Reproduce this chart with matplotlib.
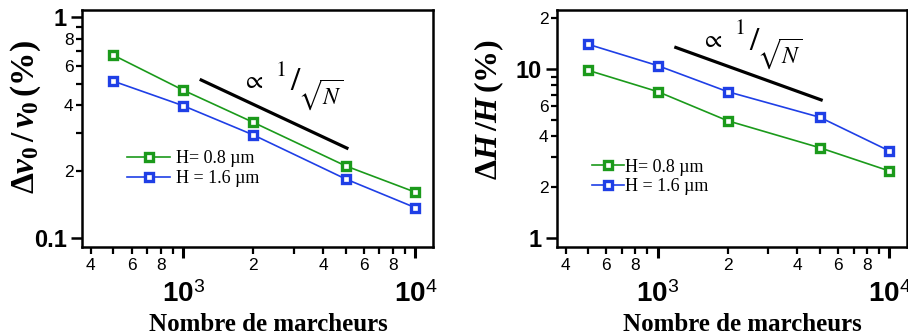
import matplotlib
matplotlib.use('Agg')
import matplotlib.pyplot as plt

plt.rcParams['font.family'] = 'Liberation Sans'
plt.rcParams['mathtext.fontset'] = 'custom'
plt.rcParams['mathtext.rm'] = 'Liberation Serif:bold'
plt.rcParams['mathtext.it'] = 'Liberation Serif:italic:bold'
plt.rcParams['mathtext.bf'] = 'Liberation Sans:bold'
plt.rcParams['mathtext.sf'] = 'Liberation Sans'

# nombre de marcheurs
n_walkers = [500, 1000, 2000, 5000, 10000]

# dv0/v0 (%)
dv_h08 = [6.73, 4.67, 3.34, 2.12, 1.61]
dv_h16 = [5.13, 3.97, 2.93, 1.85, 1.37]

# dH/H (%)
dh_h08 = [9.82, 7.34, 4.94, 3.42, 2.49]
dh_h16 = [14.0, 10.46, 7.34, 5.18, 3.27]

# droite de reference 1/sqrt(N)
ref_x = [1196, 5070]
ref_dv = [5.19, 2.55]
ref_dh = [13.4, 6.56]

labels = ['H= 0.8 µm', 'H = 1.6 µm']
green = '#1b9a1b'
blue = '#1f3fe6'

x_major = [1000, 10000]
x_major_lab = [r'$\mathbf{10}^{\mathsf{3}}$', r'$\mathbf{10}^{\mathsf{4}}$']
x_minor = [400, 500, 600, 700, 800, 900, 2000, 3000, 4000, 5000, 6000, 7000, 8000, 9000]
x_minor_lab = ['4', '', '6', '', '8', '', '2', '', '4', '', '6', '', '8', '']

fig = plt.figure(figsize=(9.08, 3.36), dpi=100)
ax1 = fig.add_axes([0.0903, 0.265, 0.3866, 0.705])
ax2 = fig.add_axes([0.6134, 0.265, 0.3855, 0.705])


def style_axes(ax):
    ax.set_xscale('log')
    ax.set_yscale('log')
    ax.set_xlim(367, 11900)
    for s in ax.spines.values():
        s.set_linewidth(1.8)
    ax.set_xticks(x_major, x_major_lab, fontsize=20, fontweight='bold')
    ax.set_xticks(x_minor, x_minor_lab, minor=True, fontsize=12.5)
    ax.tick_params(axis='x', which='major', length=8, width=2.2, pad=17)
    ax.tick_params(axis='x', which='minor', length=5, width=1.6, pad=3)
    ax.tick_params(axis='y', which='major', length=8, width=1.8, pad=3)
    ax.tick_params(axis='y', which='minor', length=4.5, width=1.6, pad=1.5)


def plot_series(ax, y1, y2):
    for y, c, lab in [(y1, green, labels[0]), (y2, blue, labels[1])]:
        ax.plot(n_walkers, y, color=c, lw=1.2, marker='s', ms=5.5,
                mfc='white', mec=c, mew=2.4, label=lab)


def annot(x, y):
    # x, y en pixels (centre du signe proportionnel)
    def t(dx, dy, s, size):
        fig.text((x + dx) / 908, 1 - (y + dy) / 336, s, fontsize=size,
                 ha='center', va='center', math_fontfamily='stix')
    t(0, 0, r'$\propto$', 18)
    t(27, -11, r'$\mathrm{1}$', 16)
    t(43, 1, r'$/$', 24)
    t(68, 14, r'$\sqrt{N}$', 17)


# panneau gauche
style_axes(ax1)
plot_series(ax1, dv_h08, dv_h16)
ax1.plot(ref_x, ref_dv, color='black', lw=2.3)
ax1.set_ylim(0.91, 10.76)
ax1.set_yticks([1, 10], ['0.1', '1'], fontsize=17, fontweight='bold')
ax1.set_yticks([2, 3, 4, 5, 6, 7, 8, 9], ['2', '', '4', '', '6', '', '8', ''],
               minor=True, fontsize=12.5)
ax1.set_ylabel(r'$\Delta v_0\,/\,v_0\,(\%)$', fontsize=24)
ax1.yaxis.set_label_coords(-0.11, 0.55)
ax1.set_xlabel('Nombre de marcheurs', fontsize=18, fontweight='bold',
               family='Liberation Serif')
ax1.xaxis.set_label_coords(0.53, -0.28)
ax1.legend(loc='center left', bbox_to_anchor=(0.128, 0.33), frameon=False,
           prop={'family': 'Liberation Serif', 'size': 13}, handlelength=2.4,
           handletextpad=0.3, labelspacing=0.15, borderpad=0, borderaxespad=0)
annot(253, 81)

# panneau droit
style_axes(ax2)
plot_series(ax2, dh_h08, dh_h16)
ax2.plot(ref_x, ref_dh, color='black', lw=2.3)
ax2.set_ylim(0.885, 22.3)
ax2.set_yticks([1, 10], ['1', '10'], fontsize=17, fontweight='bold')
ax2.set_yticks([2, 3, 4, 5, 6, 7, 8, 9, 20], ['2', '', '4', '', '6', '', '', '', '2'],
               minor=True, fontsize=12.5)
ax2.set_ylabel(r'$\Delta H\,/H\,(\%)$', fontsize=23)
ax2.yaxis.set_label_coords(-0.145, 0.58)
ax2.set_xlabel('Nombre de marcheurs', fontsize=18, fontweight='bold',
               family='Liberation Serif')
ax2.xaxis.set_label_coords(0.53, -0.28)
ax2.legend(loc='center left', bbox_to_anchor=(0.10, 0.295), frameon=False,
           prop={'family': 'Liberation Serif', 'size': 13}, handlelength=1.8,
           handletextpad=0.05, labelspacing=0.15, borderpad=0, borderaxespad=0)
annot(712, 40)

fig.savefig('out.png', dpi=100)
